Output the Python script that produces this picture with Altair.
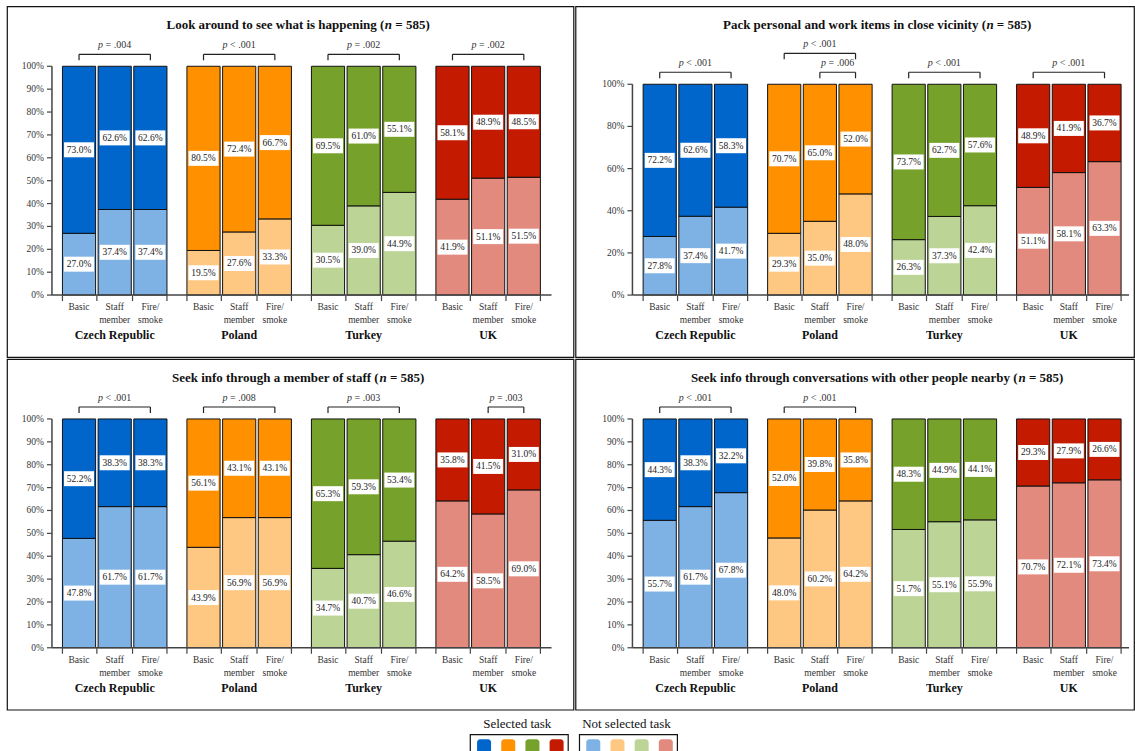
import altair as alt
import pandas as pd

# ---------------- data ----------------
COUNTRIES = ["Czech Republic", "Poland", "Turkey", "UK"]
CONDITIONS = ["Basic", "Staff\nmember", "Fire/\nsmoke"]
SELECTED_COLORS = ["#0066CC", "#FF9100", "#76A12A", "#C41B00"]
NOT_SELECTED_COLORS = ["#7EB2E4", "#FFC882", "#BCD496", "#E28A7E"]

TITLES = ["Look around to see what is happening",
          "Pack personal and work items in close vicinity",
          "Seek info through a member of staff",
          "Seek info through conversations with other people nearby"]
N_SUFFIX = "= 585)"

LOOK_SELECTED = [[73.0, 62.6, 62.6], [80.5, 72.4, 66.7], [69.5, 61.0, 55.1], [58.1, 48.9, 48.5]]
LOOK_NOT = [[27.0, 37.4, 37.4], [19.5, 27.6, 33.3], [30.5, 39.0, 44.9], [41.9, 51.1, 51.5]]
PACK_SELECTED = [[72.2, 62.6, 58.3], [70.7, 65.0, 52.0], [73.7, 62.7, 57.6], [48.9, 41.9, 36.7]]
PACK_NOT = [[27.8, 37.4, 41.7], [29.3, 35.0, 48.0], [26.3, 37.3, 42.4], [51.1, 58.1, 63.3]]
STAFF_SELECTED = [[52.2, 38.3, 38.3], [56.1, 43.1, 43.1], [65.3, 59.3, 53.4], [35.8, 41.5, 31.0]]
STAFF_NOT = [[47.8, 61.7, 61.7], [43.9, 56.9, 56.9], [34.7, 40.7, 46.6], [64.2, 58.5, 69.0]]
CONV_SELECTED = [[44.3, 38.3, 32.2], [52.0, 39.8, 35.8], [48.3, 44.9, 44.1], [29.3, 27.9, 26.6]]
CONV_NOT = [[55.7, 61.7, 67.8], [48.0, 60.2, 64.2], [51.7, 55.1, 55.9], [70.7, 72.1, 73.4]]

# (country index, first condition, last condition, bracket level, text)
LOOK_P = [(0, 0, 2, 1, "= .004"), (1, 0, 2, 1, "< .001"), (2, 0, 2, 1, "= .002"), (3, 0, 2, 1, "= .002")]
PACK_P = [(0, 0, 2, 1, "< .001"), (1, 0, 2, 2, "< .001"), (1, 1, 2, 1, "= .006"),
          (2, 0, 2, 1, "< .001"), (3, 0, 2, 1, "< .001")]
STAFF_P = [(0, 0, 2, 1, "< .001"), (1, 0, 2, 1, "= .008"), (2, 0, 2, 1, "= .003"), (3, 1, 2, 1, "= .003")]
CONV_P = [(0, 0, 2, 1, "< .001"), (1, 0, 2, 1, "< .001")]

Y_TICKS_10 = list(range(0, 101, 10))
Y_TICKS_20 = list(range(0, 101, 20))

LEGEND_TITLES = ["Selected task", "Not selected task"]

# ---------------- layout / style ----------------
FONT = "Liberation Serif"
H = 351
Y0_PX = 289
U = 35.7
BW = 0.93
G = 3.49

BOLD_W = {' ': 250, '(': 333, ')': 333, '=': 570, '.': 250,
          'A': 722, 'B': 667, 'C': 722, 'D': 722, 'E': 667, 'F': 611, 'G': 778, 'H': 778, 'I': 389,
          'J': 500, 'K': 778, 'L': 667, 'M': 944, 'N': 722, 'O': 778, 'P': 611, 'Q': 778, 'R': 722,
          'S': 556, 'T': 667, 'U': 722, 'V': 722, 'W': 1000, 'X': 722, 'Y': 722, 'Z': 667,
          'a': 500, 'b': 556, 'c': 444, 'd': 556, 'e': 444, 'f': 333, 'g': 500, 'h': 556, 'i': 278,
          'j': 333, 'k': 556, 'l': 278, 'm': 833, 'n': 556, 'o': 500, 'p': 556, 'q': 556, 'r': 444,
          's': 389, 't': 333, 'u': 556, 'v': 500, 'w': 722, 'x': 500, 'y': 500, 'z': 444}


def bold_width(s, size):
    return sum(BOLD_W.get(c, 500) for c in s) * size / 1000.0


BOX = "M-1,-0.5L1,-0.5L1,0.5L-1,0.5Z"


def panel(idx, sel, nots, pvals, yticks, W, axis_px, bar0_px, y100_px, xend_px):
    ppu = (Y0_PX - y100_px) / 100.0
    yd0 = -(H - Y0_PX) / ppu
    ys = alt.Scale(domain=[yd0, yd0 + H / ppu], zero=False, nice=False)
    xd0 = -bar0_px / U
    xs = alt.Scale(domain=[xd0, xd0 + W / U], zero=False, nice=False)
    ax = (axis_px - bar0_px) / U
    xe = (xend_px - bar0_px) / U

    rows, ticks, cats, ctry = [], [], [], []
    for g, country in enumerate(COUNTRIES):
        base = g * G
        ticks += [base, base + 0.965, base + 1.965, base + BW + 2]
        ctry.append(dict(x=base + (2 + BW) / 2, label=country))
        for i, cond in enumerate(CONDITIONS):
            x0 = base + i
            xc = x0 + BW / 2
            n = nots[g][i]
            s = sel[g][i]
            cats.append(dict(x=xc, label=cond))
            rows.append(dict(x0=x0, x1=x0 + BW, xc=xc, y0=0.0, y1=n, ym=n / 2,
                             color=NOT_SELECTED_COLORS[g], label=f"{n:.1f}%"))
            rows.append(dict(x0=x0, x1=x0 + BW, xc=xc, y0=n, y1=n + s, ym=n + s / 2,
                             color=SELECTED_COLORS[g], label=f"{s:.1f}%"))
    bars = pd.DataFrame(rows)

    X = lambda f: alt.X(f, type="quantitative", scale=xs, axis=None)
    Y = lambda f: alt.Y(f, type="quantitative", scale=ys, axis=None)

    layers = []
    layers.append(alt.Chart(bars).mark_rect(stroke="#111", strokeWidth=1).encode(
        x=X("x0"), x2="x1", y=Y("y0"), y2="y1", fill=alt.Fill("color:N", scale=None)))
    layers.append(alt.Chart(bars).mark_point(shape=BOX, size=900, filled=True, color="white",
                                             opacity=1, strokeWidth=0).encode(x=X("xc"), y=Y("ym")))
    layers.append(alt.Chart(bars).mark_text(font=FONT, fontSize=9.5, baseline="middle",
                                            color="#1a1a1a").encode(x=X("xc"), y=Y("ym"), text="label:N"))

    # axes
    axdf = pd.DataFrame([dict(x=ax, xe=xe, y0=0.0, y1=100.0)])
    layers.append(alt.Chart(axdf).mark_rule(stroke="#444", strokeWidth=1.5).encode(
        x=X("x"), y=Y("y0"), y2="y1"))
    layers.append(alt.Chart(axdf).mark_rule(stroke="#444", strokeWidth=1.5).encode(
        x=X("x"), x2="xe", y=Y("y0")))
    ytdf = pd.DataFrame([dict(x=ax, y=v, label=f"{v}%") for v in yticks])
    layers.append(alt.Chart(ytdf).mark_rule(stroke="#444", strokeWidth=1.2).encode(
        x=X("x"), x2=alt.value(axis_px - 5), y=Y("y")))
    layers.append(alt.Chart(ytdf).mark_text(font=FONT, fontSize=9.5, align="right", baseline="middle",
                                            dx=-8, color="#333").encode(x=X("x"), y=Y("y"), text="label:N"))
    xtdf = pd.DataFrame([dict(x=t, y=0.0) for t in ticks])
    layers.append(alt.Chart(xtdf).mark_rule(stroke="#444", strokeWidth=1.2).encode(
        x=X("x"), y=Y("y"), y2=alt.value(Y0_PX + 6)))
    layers.append(alt.Chart(pd.DataFrame(cats)).mark_text(
        font=FONT, fontSize=9.5, align="center", baseline="top", lineBreak="\n", lineHeight=13,
        color="#333").encode(x=X("x"), y=alt.value(Y0_PX + 7), text="label:N"))
    layers.append(alt.Chart(pd.DataFrame(ctry)).mark_text(
        font=FONT, fontSize=12, fontWeight="bold", align="center", baseline="middle",
        color="#111").encode(x=X("x"), y=alt.value(Y0_PX + 40), text="label:N"))

    # significance brackets
    if pvals:
        br, legs = [], []
        for g, a, b, lvl, txt in pvals:
            xa = g * G + a + BW / 2
            xb = g * G + b + BW / 2
            off = 12 if lvl == 1 else 31
            yb = 100 + off / ppu
            yl = 100 + (off - 6) / ppu
            yt = 100 + (off + 9) / ppu
            br.append(dict(xa=xa, xb=xb, xm=(xa + xb) / 2, yb=yb, yt=yt, txt=txt))
            legs += [dict(x=xa, yl=yl, yb=yb), dict(x=xb, yl=yl, yb=yb)]
        brdf = pd.DataFrame(br)
        layers.append(alt.Chart(brdf).mark_rule(stroke="#222", strokeWidth=1.2).encode(
            x=X("xa"), x2="xb", y=Y("yb")))
        layers.append(alt.Chart(pd.DataFrame(legs)).mark_rule(stroke="#222", strokeWidth=1.2).encode(
            x=X("x"), y=Y("yl"), y2="yb"))
        layers.append(alt.Chart(brdf).mark_text(font=FONT, fontSize=10, fontStyle="italic", align="left",
                                                baseline="middle", dx=-16.6, color="#333").encode(
            x=X("xm"), y=Y("yt"), text=alt.value("p")))
        layers.append(alt.Chart(brdf).mark_text(font=FONT, fontSize=10, align="left",
                                                baseline="middle", dx=-9.1, color="#333").encode(
            x=X("xm"), y=Y("yt"), text=alt.Text("txt:N")))

    # title with italic n
    ttl = TITLES[idx]
    prefix = ttl + " ("
    fs = 13
    wp = bold_width(prefix, fs)
    wn = 556 * fs / 1000.0
    wsp = 250 * fs / 1000.0
    tot = wp + wn + wsp + bold_width(N_SUFFIX, fs)
    tdf = pd.DataFrame([dict(x=(ax + xe) / 2 - 0.1)])
    for txt, dx, style in [(prefix, -tot / 2, "normal"), ("n", -tot / 2 + wp, "italic"),
                           (N_SUFFIX, -tot / 2 + wp + wn + wsp, "normal")]:
        layers.append(alt.Chart(tdf).mark_text(font=FONT, fontSize=fs, fontWeight="bold", fontStyle=style,
                                               align="left", baseline="middle", dx=dx, color="#111").encode(
            x=X("x"), y=alt.value(19), text=alt.value(txt)))

    return alt.layer(*layers).properties(
        width=W, height=H, view=alt.ViewBackground(stroke="#111", strokeWidth=1.2, fill="white"))


p1 = panel(0, LOOK_SELECTED, LOOK_NOT, LOOK_P, Y_TICKS_10, 567, 45, 55.5, 60, 545)
p2 = panel(1, PACK_SELECTED, PACK_NOT, PACK_P, Y_TICKS_20, 559, 57, 67.7, 78, 554)
p3 = panel(2, STAFF_SELECTED, STAFF_NOT, STAFF_P, Y_TICKS_10, 567, 45, 55.5, 60, 545)
p4 = panel(3, CONV_SELECTED, CONV_NOT, CONV_P, Y_TICKS_10, 559, 57, 67.7, 60, 554)

# ---------------- legend ----------------
LW, LH = 1126, 42
frame_left = [463.7, 573.0]
sw, fr, lt = [], [], []
for k, cols in enumerate([SELECTED_COLORS, NOT_SELECTED_COLORS]):
    fl = frame_left[k]
    fr.append(dict(x0=fl, x1=fl + 98, y0=23, y1=47))
    lt.append(dict(x=fl + 47, y=12.5, label=LEGEND_TITLES[k]))
    for i, c in enumerate(cols):
        cx = fl + 13.8 + i * 24.2
        sw.append(dict(x0=cx - 7, x1=cx + 7, y0=27.5, y1=41.5, color=c))
lxs = alt.Scale(domain=[0, LW], zero=False, nice=False)
lys = alt.Scale(domain=[LH, 0], zero=False, nice=False)
LX = lambda f: alt.X(f, type="quantitative", scale=lxs, axis=None)
LY = lambda f: alt.Y(f, type="quantitative", scale=lys, axis=None)
legend = alt.layer(
    alt.Chart(pd.DataFrame(fr)).mark_rect(fill="white", stroke="#111", strokeWidth=1.2).encode(
        x=LX("x0"), x2="x1", y=LY("y0"), y2="y1"),
    alt.Chart(pd.DataFrame(sw)).mark_rect(cornerRadius=3).encode(
        x=LX("x0"), x2="x1", y=LY("y0"), y2="y1", fill=alt.Fill("color:N", scale=None)),
    alt.Chart(pd.DataFrame(lt)).mark_text(font=FONT, fontSize=13, align="center", baseline="middle",
                                          color="#111").encode(x=LX("x"), y=LY("y"), text="label:N"),
).properties(width=LW, height=LH, view=alt.ViewBackground(stroke="transparent"))

chart = alt.vconcat(
    alt.hconcat(p1, p2, spacing=0),
    alt.hconcat(p3, p4, spacing=0),
    legend,
    spacing=0,
).properties(padding={"left": 6, "top": 5, "right": 0, "bottom": 0}, background="white")

chart.save("out.html", embed_options={"renderer": "svg", "actions": False})
